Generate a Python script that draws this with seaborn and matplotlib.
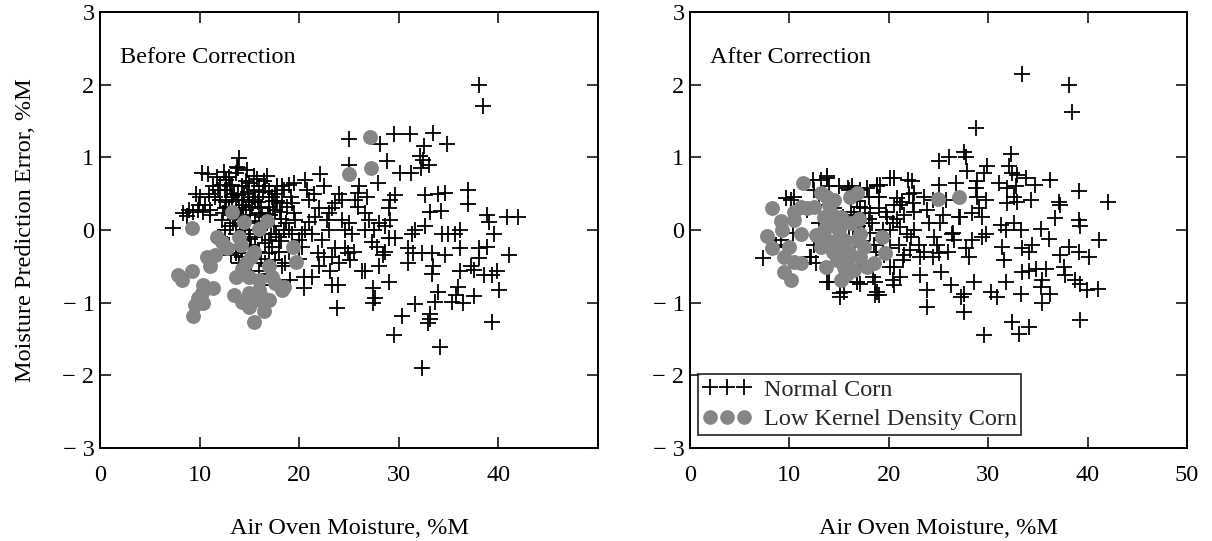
import numpy as np
import pandas as pd
import matplotlib
matplotlib.use("Agg")
import matplotlib.pyplot as plt
from matplotlib.lines import Line2D
from matplotlib.ticker import FixedLocator, FixedFormatter
import seaborn as sns

# ---------------- data ----------------
before_normal_x = [
    38.1, 38.5, 25.0, 28.1, 29.5, 31.1, 33.4, 34.8, 32.5, 32.1, 32.4, 33.0, 28.8, 25.0, 30.1, 31.2, 32.2, 27.9,
    22.1, 20.6, 22.5, 36.9, 36.9, 32.6, 33.9, 34.6, 29.6, 34.2, 33.1, 38.9, 40.9, 42.0, 39.1, 39.6, 36.1, 35.6,
    34.9, 34.3, 31.6, 31.3, 32.6, 36.1, 38.1, 38.9, 41.1, 38.1, 37.2, 37.6, 38.6, 39.4, 39.9, 36.1, 33.4, 33.3,
    30.9, 31.4, 32.3, 33.3, 34.6, 30.9, 29.0, 33.9, 35.9, 35.7, 37.6, 40.1, 35.3, 36.4, 33.6, 31.6, 27.4, 27.6,
    27.4, 30.3, 33.1, 33.1, 32.9, 39.4, 29.5, 34.1, 32.3, 23.8, 23.3, 23.9, 20.5, 21.3, 20.5, 19.1, 23.1, 26.3,
    26.6, 28.0, 28.4, 28.6, 27.8, 27.3, 25.1, 24.9, 24.6, 21.9, 22.5, 23.3, 23.6, 29.0, 29.6, 28.6, 29.1, 29.0,
    29.1, 26.6, 27.0, 26.6, 25.9, 25.6, 26.8, 25.9, 24.3, 23.6, 23.3, 23.0, 22.8, 24.3, 24.6, 25.3, 21.6, 21.0,
    20.6, 21.3, 22.3, 20.3, 20.0, 20.3, 21.0, 22.0, 19.0, 18.3, 19.5, 22.0, 24.0, 25.5, 27.5, 28.0, 23.0, 21.5,
    24.0, 26.0, 25.0,
    7.3, 8.3, 8.7, 9.3, 9.8, 10.3, 11.0, 9.6, 10.0, 10.2, 10.8, 11.7, 11.3, 12.0, 12.7, 13.0, 14.0, 13.8,
    13.7, 15.0, 14.65, 14.3, 13.1, 13.5, 16.5, 16.6, 17.0, 17.6, 17.3, 12.0, 12.7, 13.0, 12.3, 12.2, 13.7, 14.3,
    15.0, 15.6, 16.0, 15.3, 13.7, 14.2, 14.65, 15.1, 16.0, 16.3, 17.0, 17.6, 18.3, 18.8, 13.7, 14.3, 15.0, 15.6,
    16.3, 17.0, 17.3, 18.0, 18.5, 13.7, 14.3, 15.0, 17.0, 17.6, 18.3, 18.6, 14.0, 16.6, 16.0, 17.0, 17.6, 16.5,
    19.0, 19.3, 19.6, 19.5, 19.3, 14.5, 15.5, 16.2, 16.8, 17.5, 18.2, 15.8, 14.8, 13.4, 12.5, 12.0, 13.0, 17.8,
    18.5, 15.5, 16.0, 14.0, 13.3, 12.5, 11.5, 11.0, 10.5, 18.0, 19.0, 20.0, 16.0, 15.2, 14.6, 13.9,
    12.8, 13.3, 13.9, 14.4, 14.9, 15.4, 15.9, 16.4, 16.9, 17.4, 12.6, 13.1, 13.6, 14.1, 14.6, 15.1, 15.6, 16.1,
    16.6, 17.1, 17.7, 18.1, 18.7, 13.2, 14.2, 15.2, 16.2, 17.2, 18.2, 19.2, 14.8, 15.8, 16.8, 17.8, 12.4, 11.8,
    10.9, 9.9, 8.9, 20.8,
]
before_normal_y = [
    2.00, 1.71, 1.25, 1.19, 1.32, 1.32, 1.34, 1.18, 1.15, 1.02, 0.96, 0.89, 0.95, 0.89, 0.78, 0.78, 0.85, 0.65,
    0.77, 0.69, 0.61, 0.55, 0.36, 0.48, 0.50, 0.51, 0.48, 0.26, 0.25, 0.21, 0.18, 0.18, 0.11, -0.06, 0.00, -0.06,
    -0.06, -0.06, 0.00, -0.06, 0.05, -0.25, -0.25, -0.23, -0.35, -0.39, -0.50, -0.55, -0.62, -0.62, -0.57, -0.57, -0.50, -0.60,
    -0.25, -0.32, -0.31, -0.31, -0.34, -0.46, -0.71, -0.85, -0.78, -0.89, -0.91, -0.83, -0.99, -1.01, -0.99, -1.02, -0.80, -0.94,
    -1.01, -1.19, -1.15, -1.22, -1.28, -1.27, -1.44, -1.61, -1.90, -1.08, -0.76, -0.76, -0.64, -0.64, -0.80, -0.69, -0.57, -0.57,
    -0.57, -0.50, -0.34, -0.30, -0.23, -0.16, -0.41, -0.32, -0.25, -0.32, -0.37, -0.37, -0.25, -0.11, -0.11, 0.05, 0.14, 0.30,
    0.41, 0.23, 0.14, 0.00, 0.32, 0.41, 0.46, 0.51, 0.41, 0.37, 0.30, 0.23, 0.14, 0.14, 0.00, -0.05, 0.18, 0.11,
    0.00, -0.05, -0.14, -0.05, -0.14, -0.23, 0.41, 0.30, 0.62, 0.60, 0.64, -0.50, -0.45, -0.30, 0.00, 0.10, 0.00, 0.50,
    0.50, 0.60, 0.10,
    0.03, 0.23, 0.19, 0.25, 0.28, 0.25, 0.28, 0.50, 0.46, 0.78, 0.77, 0.73, 0.60, 0.62, 0.69, 0.73, 0.99, 0.87,
    0.78, 0.64, 0.67, 0.60, 0.60, 0.50, 0.67, 0.60, 0.53, 0.50, 0.46, 0.41, 0.39, 0.32, 0.23, 0.14, 0.41, 0.41,
    0.39, 0.41, 0.46, 0.32, 0.23, 0.18, 0.28, 0.20, 0.23, 0.18, 0.32, 0.28, 0.37, 0.32, -0.05, -0.14, -0.05, -0.09,
    -0.05, -0.14, -0.23, -0.09, 0.00, -0.32, -0.37, -0.32, -0.32, -0.41, -0.50, -0.46, -0.46, -0.46, -0.57, -0.60, -0.69, -0.76,
    0.00, -0.05, 0.14, 0.23, 0.37, 0.50, 0.55, 0.30, 0.10, 0.05, 0.15, 0.00, 0.10, 0.10, 0.00, -0.10, -0.20, 0.60,
    0.55, 0.75, 0.60, 0.30, 0.45, 0.55, 0.45, 0.20, 0.35, -0.30, -0.30, -0.40, -0.30, -0.20, -0.50, 0.85,
    0.55, 0.62, 0.48, 0.35, 0.52, 0.45, 0.38, 0.52, 0.22, 0.40, 0.30, 0.05, 0.15, 0.08, 0.00, -0.12, 0.12, 0.02,
    -0.18, 0.20, -0.05, 0.25, 0.10, -0.35, -0.25, -0.45, -0.40, -0.05, -0.15, 0.45, 0.82, 0.70, 0.75, 0.40, 0.80, 0.55,
    0.50, 0.35, 0.28, 0.55,
]
before_low_x = [
    27.1, 27.2, 24.95, 9.2, 13.25, 14.5, 16.0, 16.75, 14.0, 14.15, 11.7, 12.2, 12.8, 19.4, 19.7, 15.5, 15.15,
    14.65, 14.3, 10.7, 11.5, 11.0, 7.8, 8.2, 9.2, 10.3, 11.3, 10.2, 9.8, 9.5, 10.3, 9.3, 13.7, 15.0, 16.0, 17.0,
    17.3, 17.6, 18.3, 18.5, 13.5, 14.3, 15.0, 15.6, 16.3, 17.0, 16.5, 15.5, 15.0, 16.0,
]
before_low_y = [
    1.28, 0.86, 0.77, 0.03, 0.25, 0.11, 0.01, 0.12, -0.09, -0.21, -0.09, -0.16, -0.25, -0.23, -0.44, -0.30, -0.37,
    -0.46, -0.53, -0.37, -0.34, -0.50, -0.62, -0.69, -0.57, -0.76, -0.80, -0.87, -0.94, -1.03, -1.01, -1.19, -0.64, -0.64, -0.69, -0.50,
    -0.64, -0.73, -0.83, -0.78, -0.89, -0.99, -0.87, -0.96, -0.92, -0.96, -1.12, -1.26, -1.06, -0.83,
]

after_normal_x = [
    33.4, 38.1, 38.4, 28.8, 25.1, 26.1, 27.6, 27.8, 32.3, 27.9, 29.9, 29.6, 32.1, 32.4, 32.9, 33.8, 34.7, 36.2,
    39.1, 42.1, 37.1, 37.2, 28.9, 28.8, 28.9, 29.8, 31.1, 31.9, 32.8, 32.6, 31.9, 32.9, 34.3, 26.8, 25.1, 25.8,
    24.4, 22.3, 22.5, 20.5, 19.1, 21.3, 29.1, 29.4, 28.4, 27.1, 36.7, 39.1, 39.2, 31.3, 31.8, 32.6, 33.3, 35.3,
    36.1, 41.1, 38.1, 37.2, 39.1, 40.1, 34.1, 33.4, 34.4, 31.4, 31.6, 27.8, 28.1, 29.4, 29.8, 28.4, 25.1, 25.3,
    26.4, 26.6, 23.1, 23.8, 23.8, 20.5, 21.1, 20.5, 19.0, 26.3, 27.6, 27.3, 27.6, 28.6, 30.3, 30.9, 31.8, 33.3,
    33.4, 34.1, 34.8, 35.8, 35.4, 35.3, 36.2, 35.4, 37.6, 37.7, 38.7, 39.2, 39.9, 41.0, 39.2, 32.4, 33.1, 34.1,
    29.6, 7.3, 15.1, 15.5, 14.0, 16.8, 17.1, 18.6, 18.8,
    12.4, 13.75, 9.7, 15.9, 17.1, 18.8, 20.1, 21.9, 20.8, 17.1, 18.1, 19.8, 21.1, 22.4, 23.8, 25.2, 27.2, 26.5,
    22.1, 23.1, 24.4, 21.4, 20.1, 18.4, 20.4, 16.8, 13.8, 15.1, 18.6, 13.8, 12.1, 19.4, 20.1, 18.1, 16.4, 17.1,
    15.4, 11.8, 10.4, 8.7, 9.2, 8.7, 10.2, 10.5, 12.5, 13.2, 13.8, 16.3, 17.8, 18.8, 12.2, 12.7,
    14.5, 15.2, 16.0, 16.5, 17.5, 18.5, 19.0, 21.5, 22.5, 23.0, 24.0, 14.0, 13.0, 15.5, 17.0, 19.5, 21.0, 22.0,
    23.5, 24.5, 25.5, 26.0, 20.5, 18.0, 16.8,
    16.2, 16.9, 17.6, 18.3, 19.0, 19.7, 20.4, 21.1, 21.8, 22.5, 17.3, 18.0, 18.7, 19.4, 20.1, 20.8, 21.5, 22.2,
    23.5, 24.8, 16.0, 15.0, 14.0, 13.0, 12.5,
]
after_normal_y = [
    2.14, 2.00, 1.62, 1.41, 0.95, 1.01, 1.08, 1.01, 1.05, 0.81, 0.88, 0.78, 0.88, 0.78, 0.76, 0.71, 0.62, 0.69,
    0.53, 0.38, 0.39, 0.35, 0.67, 0.58, 0.46, 0.41, 0.65, 0.58, 0.60, 0.46, 0.37, 0.39, 0.41, 0.64, 0.62, 0.41,
    0.41, 0.67, 0.51, 0.71, 0.62, 0.39, 0.30, 0.18, 0.23, 0.18, 0.16, 0.14, 0.05, 0.07, 0.00, 0.09, 0.00, 0.02,
    -0.12, -0.14, -0.23, -0.35, -0.30, -0.37, -0.30, -0.25, -0.21, -0.23, -0.41, -0.25, -0.37, -0.09, -0.05, -0.14, -0.32, -0.58,
    -0.05, -0.14, -0.62, -0.83, -1.06, -0.51, -0.65, -0.76, -0.90, -0.76, -0.88, -0.92, -1.13, -0.71, -0.85, -0.92, -0.71, -0.88,
    -0.58, -0.56, -0.53, -0.54, -0.69, -0.78, -0.88, -1.01, -0.51, -0.62, -0.69, -0.74, -0.83, -0.81, -1.24, -1.27, -1.43, -1.33,
    -1.45, -0.39, -0.92, -0.85, -0.71, -0.71, -0.74, -0.71, -0.85,
    0.69, 0.72, 0.44, 0.58, 0.55, 0.62, 0.72, 0.69, 0.44, 0.32, 0.23, 0.18, 0.04, 0.37, 0.28, 0.10, 0.18, -0.04,
    -0.28, -0.37, -0.37, -0.41, -0.51, -0.65, -0.69, -0.71, -0.71, -0.87, -0.90, -0.14, -0.37, -0.14, 0.00, -0.04, 0.04, -0.23,
    0.18, 0.28, -0.04, -0.23, -0.14, -0.21, 0.41, 0.46, 0.55, 0.69, 0.74, 0.60, 0.58, 0.60, -0.37, -0.46,
    0.30, 0.10, -0.10, 0.20, 0.10, -0.20, 0.30, 0.20, 0.00, -0.20, 0.10, 0.40, 0.10, -0.40, -0.50, -0.35, -0.20, 0.50,
    0.45, -0.10, 0.20, -0.30, 0.35, 0.45, 0.40,
    0.25, 0.05, 0.30, 0.10, 0.45, 0.25, 0.10, 0.35, -0.05, 0.25, -0.15, 0.15, -0.30, 0.00, -0.25, 0.15, -0.35, -0.10,
    -0.30, -0.20, 0.55, 0.60, 0.60, 0.35, -0.20,
]
after_low_x = [
    8.2, 11.4, 24.95, 27.1, 7.7, 8.2, 9.2, 9.3, 10.5, 11.2, 10.0, 9.5, 10.5, 11.2, 9.5, 10.2, 10.5, 11.2,
    11.8, 12.5, 12.7, 13.2, 13.8, 14.5, 14.2, 14.5, 14.8, 15.2, 15.5, 15.2, 15.8, 16.8, 17.1, 17.5, 17.1, 17.8,
    18.5, 16.1, 16.8, 19.3, 19.6, 13.7, 13.2, 15.2, 15.5, 14.8, 15.8, 16.5, 13.8, 13.5,
    14.0, 14.6, 15.0, 15.4, 16.0, 13.5, 14.4, 15.6, 16.2, 17.0,
]
after_low_y = [
    0.30, 0.65, 0.42, 0.46, -0.08, -0.25, 0.12, 0.00, 0.14, -0.05, -0.23, -0.37, -0.44, -0.46, -0.58, -0.69, 0.25, 0.32,
    0.30, 0.32, -0.07, 0.51, 0.46, 0.41, 0.23, 0.05, -0.14, -0.32, -0.51, -0.69, -0.41, -0.14, -0.05, -0.23, -0.37, -0.51,
    -0.46, 0.46, 0.51, -0.09, -0.32, -0.51, -0.23, 0.18, -0.14, -0.41, -0.60, -0.55, -0.14, 0.18,
    0.35, 0.15, 0.00, -0.20, -0.30, 0.00, -0.30, -0.55, 0.10, 0.15,
]

panel_titles = ["Before Correction", "After Correction"]
series_labels = ["Normal Corn", "Low Kernel Density Corn"]
x_ticks = [0, 10, 20, 30, 40, 50]
x_tick_labels_left = ["0", "10", "20", "30", "40", ""]
x_tick_labels_right = ["0", "10", "20", "30", "40", "50"]
y_ticks = [-3, -2, -1, 0, 1, 2, 3]
y_tick_labels = ["\u2212 3", "\u2212 2", "\u2212 1", "0", "1", "2", "3"]
x_label = "Air Oven Moisture, %M"
y_label = "Moisture Prediction Error, %M"

# ---------------- style ----------------
sns.set_theme(style="white")
plt.rcParams["font.family"] = ["Liberation Serif", "DejaVu Serif"]
FS = 17.5

fig = plt.figure(figsize=(12.12, 5.41), dpi=100)
ax1 = fig.add_axes([100 / 1212, 1 - 448 / 541, 498 / 1212, 436 / 541])
ax2 = fig.add_axes([690 / 1212, 1 - 448 / 541, 497 / 1212, 436 / 541])

PLUS_S = 125
CIRC_S = 115
GRAY = "#858585"

panels = [
    (ax1, before_normal_x, before_normal_y, before_low_x, before_low_y, panel_titles[0], x_tick_labels_left),
    (ax2, after_normal_x, after_normal_y, after_low_x, after_low_y, panel_titles[1], x_tick_labels_right),
]

for ax, nx, ny, lx, ly, title, xtl in panels:
    dn = pd.DataFrame({"x": nx, "y": ny})
    dl = pd.DataFrame({"x": lx, "y": ly})
    sns.scatterplot(data=dn, x="x", y="y", marker="+", color="black", s=PLUS_S,
                    linewidth=1.3, ax=ax, zorder=2)
    sns.scatterplot(data=dl, x="x", y="y", marker="o", color=GRAY, s=CIRC_S,
                    linewidth=0, ax=ax, zorder=3)
    ax.set_xlim(0, 50)
    ax.set_ylim(-3, 3)
    ax.xaxis.set_major_locator(FixedLocator(x_ticks))
    ax.xaxis.set_major_formatter(FixedFormatter(xtl))
    ax.yaxis.set_major_locator(FixedLocator(y_ticks))
    ax.yaxis.set_major_formatter(FixedFormatter(y_tick_labels))
    ax.tick_params(axis="both", which="major", direction="in", top=True, right=True,
                   bottom=True, left=True, length=8, width=1.1, color="black",
                   labelsize=FS, labelcolor="black")
    ax.tick_params(axis="x", pad=12)
    ax.tick_params(axis="y", pad=4)
    for sp in ax.spines.values():
        sp.set_color("black")
        sp.set_linewidth(1.4)
        sp.set_visible(True)
    ax.set_xlabel(x_label, fontsize=FS, labelpad=23, color="black")
    ax.set_ylabel("")
    ax.text(2.0, 2.37, title, fontsize=FS, va="center", ha="left", color="black")
    ax.grid(False)

ax1.set_ylabel(y_label, fontsize=FS, labelpad=19, color="black")

handles = [
    Line2D([], [], linestyle="none", marker="+", color="black", markersize=11, markeredgewidth=1.3),
    Line2D([], [], linestyle="none", marker="o", color=GRAY, markersize=10.5, markeredgewidth=0),
]
leg = ax2.legend(handles, series_labels, loc="lower left", bbox_to_anchor=(0.016, 0.03),
                 borderaxespad=0, numpoints=3, fontsize=FS, frameon=True, fancybox=False,
                 handlelength=2.0, handletextpad=0.5, borderpad=0.2, labelspacing=0.3,
                 edgecolor="black")
leg.get_frame().set_linewidth(1.3)
leg.get_frame().set_facecolor("white")

fig.savefig("out.png", dpi=100, facecolor="white")
